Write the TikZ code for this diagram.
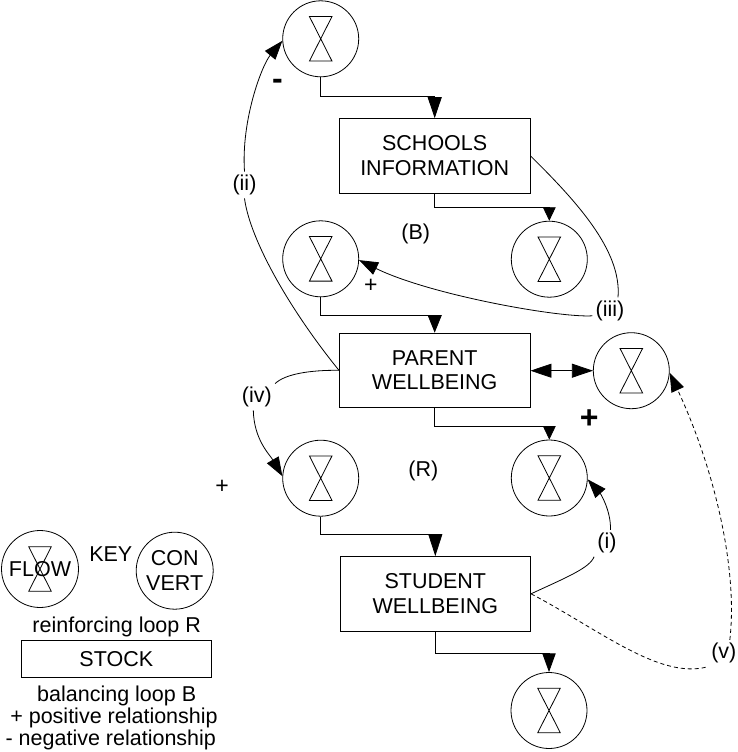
\documentclass[tikz,border=0pt]{standalone}
\usepackage{fontspec}
\setmainfont{Liberation Sans}
\usetikzlibrary{arrows.meta}
\begin{document}
\begin{tikzpicture}[x=1pt,y=-1pt,line width=0.8pt,
  every node/.style={font=\fontsize{21.5pt}{24.5pt}\selectfont, inner sep=0pt},
  stock/.style={draw, minimum width=190.7pt, minimum height=74.5pt, align=center},
  flowc/.style={draw, circle, minimum size=76pt,
    path picture={\draw ([shift={(-11.3pt,22.3pt)}]path picture bounding box.center)
      -- ++(22.6pt,0pt) -- ++(-22.6pt,-44.6pt) -- ++(22.6pt,0pt) -- cycle;}},
  lab/.style={inner sep=3pt},
  ar/.style 2 args={-{Triangle[length=#1,width=#2]}},
  arc/.style={-{Triangle[length=19pt,width=13.5pt]}},
  bigsign/.style={font=\fontsize{32pt}{32pt}\selectfont\bfseries, anchor=base},
  smallsign/.style={font=\fontsize{23pt}{23pt}\selectfont, anchor=base},
  legend/.style={anchor=base}]
\useasboundingbox (0,0) rectangle (738,752);

% main stocks and flows
\node[flowc] (f1) at (320.7,38.8) {};
\node[stock] (si) at (434.7,155.8) {SCHOOLS\\INFORMATION};
\node[flowc] (f2) at (320.7,258.8) {};
\node[flowc] (f3) at (549.3,259.2) {};
\node[stock] (pw) at (434.7,370.3) {PARENT\\WELLBEING};
\node[flowc] (f4) at (631.3,370.7) {};
\node[flowc] (f5) at (320.7,478.2) {};
\node[flowc] (f6) at (549.3,478) {};
\node[stock] (sw) at (435.3,593.8) {STUDENT\\WELLBEING};
\node[flowc] (f7) at (549,710.5) {};

% orthogonal flow arrows
\draw[ar={21pt}{14pt}] (f1.south) -- ++(0,19.4) -| (si.north);
\draw[ar={13.5pt}{12.7pt}] (si.south) -- ++(0,13.8) -| (f3.north);
\draw[ar={17.5pt}{14pt}] (f2.south) -- ++(0,18.5) -| (pw.north);
\draw[ar={13.5pt}{12.7pt}] (pw.south) -- ++(0,18) -| (f6.north);
\draw[ar={22pt}{14pt}] (f5.south) -- ++(0,17.4) -| (sw.north);
\draw[ar={18.7pt}{13.3pt}] (sw.south) -- ++(0,21.8) -| (f7.north);

% bidirectional
\draw[{Triangle[length=21pt,width=14pt]}-{Triangle[length=21pt,width=14pt]}]
  (pw.east |- f4.west) -- (f4.west);

% labelled curves
\node[lab] (lii) at (244.5,185) {(ii)};
\draw (pw.west) .. controls (290,310) and (250,240) .. (lii.south);
\draw[arc] (lii.north) .. controls (241,120) and (262,65) .. (f1.183);

\node[lab] (liii) at (610,310.8) {(iii)};
\draw (si.east) .. controls (575,200) and (622,250) .. ([xshift=8pt]liii.north);
\draw[arc] ([yshift=-5pt]liii.west) .. controls (560,318) and (430,295) .. (f2.-2);

\node[lab] (liv) at (256.8,397) {(iv)};
\draw (pw.west) .. controls (310,370) and (285,374) .. (liv.north east);
\draw[arc] ([xshift=-3.5pt]liv.south) .. controls (254,440) and (270,455) .. (f5.177);

\node[lab] (li) at (607,543.3) {(i)};
\draw (sw.east) .. controls (565,578) and (590,568) .. (li.south west);
\draw[arc] ([xshift=3.5pt]li.north) .. controls (611,510) and (600,493) .. (f6.-2);

\node[lab] (lv) at (723.8,653.3) {(v)};
\draw[dash pattern=on 4pt off 3pt] (sw.east) .. controls (600,630) and (660,680) .. (lv.south west);
\draw[dash pattern=on 4pt off 3pt, arc] ([xshift=6pt]lv.north) .. controls (738,570) and (715,470) .. (f4.-3);

% loop labels and signs
\node (lB) at (415.8,233.8) {(B)};
\node (lR) at (423.3,471.2) {(R)};
\node[bigsign] (sm) at (277.5,89.3) {-};
\node[bigsign] (sp) at (589.3,428.4) {+};
\node[smallsign] (sp1) at (370.8,292.2) {+};
\node[smallsign] (sp2) at (222,493.3) {+};

% key
\node[flowc, minimum size=77pt] (kf) at (40,569) {FLOW};
\node (key) at (110.8,553.7) {KEY};
\node[draw, circle, minimum size=77pt, align=center,
  font=\fontsize{21.5pt}{25.5pt}\selectfont] (kc) at (174.7,570.7) {CON\\VERT};
\node[legend] (t1) at (116.7,632) {reinforcing loop R};
\node[draw, minimum width=190.7pt, minimum height=36.6pt] (ks) at (116.3,659) {STOCK};
\node[legend] (t2) at (116.7,701.7) {balancing loop B};
\node[legend] (t3) at (114,723.3) {+ positive relationship};
\node[legend] (t4) at (110.8,745.7) {- negative relationship};
\end{tikzpicture}
\end{document}
